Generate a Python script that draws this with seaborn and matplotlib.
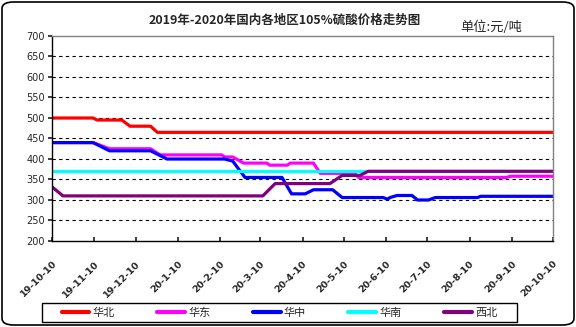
import matplotlib
matplotlib.use("Agg")
import matplotlib.pyplot as plt
from matplotlib.patches import FancyBboxPatch, Rectangle
from matplotlib.lines import Line2D
import seaborn as sns
import pandas as pd

sns.set_theme(style="white")
plt.rcParams['font.family'] = ['Noto Sans CJK SC', 'DejaVu Sans']

regions = ["华北", "华东", "华中", "华南", "西北"]
colors = ["#FF0000", "#FF00FF", "#0000FF", "#00FFFF", "#800080"]

huabei_dates = ["2019-10-10", "2019-11-09", "2019-11-12", "2019-11-30", "2019-12-06",
                "2019-12-21", "2019-12-26", "2020-10-10"]
huabei_vals = [500, 500, 495, 495, 480, 480, 465, 465]

huadong_dates = ["2019-10-10", "2019-11-09", "2019-11-21", "2019-12-21", "2019-12-28",
                 "2020-02-11", "2020-02-13", "2020-02-19", "2020-02-27", "2020-03-15",
                 "2020-03-17", "2020-03-30", "2020-04-01", "2020-04-18", "2020-04-23",
                 "2020-05-18", "2020-05-21", "2020-09-06", "2020-09-09", "2020-10-10"]
huadong_vals = [440, 440, 425, 425, 410, 410, 405, 405, 390, 390,
                385, 385, 390, 390, 365, 365, 355, 355, 358, 358]

huazhong_dates = ["2019-10-10", "2019-11-09", "2019-11-21", "2019-12-21", "2020-01-02",
                  "2020-02-13", "2020-02-19", "2020-02-28", "2020-03-26", "2020-04-02",
                  "2020-04-12", "2020-04-18", "2020-05-02", "2020-05-09", "2020-06-08",
                  "2020-06-11", "2020-06-13", "2020-06-18", "2020-06-29", "2020-07-03",
                  "2020-07-11", "2020-07-16", "2020-08-16", "2020-08-18", "2020-10-10"]
huazhong_vals = [440, 440, 420, 420, 400, 400, 395, 355, 355, 315,
                 315, 325, 325, 306, 306, 302, 306, 311, 311, 300,
                 300, 306, 306, 309, 309]

huanan_dates = ["2019-10-10", "2020-10-10"]
huanan_vals = [370, 370]

xibei_dates = ["2019-10-10", "2019-10-18", "2020-03-12", "2020-03-21", "2020-04-30",
               "2020-05-09", "2020-05-22", "2020-05-28", "2020-10-10"]
xibei_vals = [332, 310, 310, 340, 340, 360, 360, 370, 370]

tick_dates = ["2019-10-10", "2019-11-10", "2019-12-10", "2020-01-10", "2020-02-10",
              "2020-03-10", "2020-04-10", "2020-05-10", "2020-06-10", "2020-07-10",
              "2020-08-10", "2020-09-10", "2020-10-10"]
tick_labels = ["19-10-10", "19-11-10", "19-12-10", "20-1-10", "20-2-10", "20-3-10",
               "20-4-10", "20-5-10", "20-6-10", "20-7-10", "20-8-10", "20-9-10", "20-10-10"]

frames = []
for name, d, v in [("华北", huabei_dates, huabei_vals), ("华东", huadong_dates, huadong_vals),
                   ("华中", huazhong_dates, huazhong_vals), ("华南", huanan_dates, huanan_vals),
                   ("西北", xibei_dates, xibei_vals)]:
    frames.append(pd.DataFrame({"date": pd.to_datetime(d), "price": v, "region": name}))
df = pd.concat(frames, ignore_index=True)

W, H = 576, 327
fig = plt.figure(figsize=(5.76, 3.27), dpi=100)
ax = fig.add_axes([52/W, 1-241/H, (553-52)/W, (241-36)/H])

sns.lineplot(data=df, x="date", y="price", hue="region", hue_order=regions,
             palette=dict(zip(regions, colors)), linewidth=2.3, legend=False,
             estimator=None, sort=False, ax=ax)

ax.set_ylim(200, 700)
ax.set_yticks(range(200, 701, 50))
ax.set_xlim(pd.Timestamp(tick_dates[0]), pd.Timestamp(tick_dates[-1]))
ax.set_xticks(pd.to_datetime(tick_dates))
ax.set_xticklabels(tick_labels, rotation=45, ha="right", rotation_mode="anchor",
                   fontsize=6.8, fontweight="bold", family=["DejaVu Sans"])
ax.tick_params(axis="y", labelsize=7, length=3, direction="out", left=True, pad=2)
ax.tick_params(axis="x", length=3, direction="in", bottom=True, pad=13)
for lbl in ax.get_yticklabels():
    lbl.set_family(["DejaVu Sans"])
ax.set_xlabel("")
ax.set_ylabel("")
for y in range(250, 700, 50):
    ax.axhline(y, color="black", linestyle=(0, (3, 3)), linewidth=0.8, zorder=0)
ax.spines["left"].set_color("black")
ax.spines["bottom"].set_color("black")
ax.spines["top"].set_color("#808080")
ax.spines["right"].set_color("#808080")
for s in ax.spines.values():
    s.set_linewidth(1.0)

fig.text(285/W, 1-20/H, "2019年-2020年国内各地区105%硫酸价格走势图",
         ha="center", va="center", fontsize=9, fontweight="bold")
fig.text(491/W, 1-27/H, "单位:元/吨", ha="center", va="center", fontsize=9.5)

handles = [Line2D([0], [0], color=c, linewidth=3) for c in colors]
leg = fig.legend(handles, regions, loc="center", bbox_to_anchor=(279.5/W, 1-312.5/H),
                 ncol=5, frameon=False, fontsize=8, handlelength=2.5, columnspacing=3.8,
                 handletextpad=0.3, borderpad=0.2)
fig.patches.append(Rectangle((42/W, 1-322/H), 475/W, 19/H, transform=fig.transFigure,
                             fill=False, edgecolor="black", linewidth=1.0))

border = FancyBboxPatch((2/W, 2/H), 572/W, 323/H,
                        boxstyle="round,pad=0,rounding_size=0.02",
                        transform=fig.transFigure, fill=False, edgecolor="black",
                        linewidth=1.2)
fig.patches.append(border)

fig.savefig("out.png", dpi=100)
